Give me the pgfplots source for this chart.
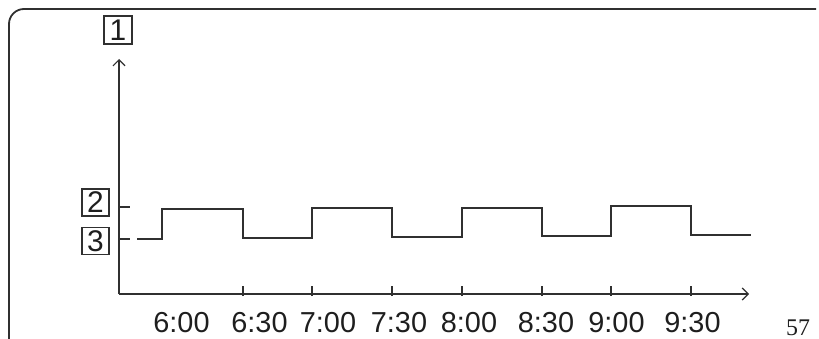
\documentclass[border=0pt]{standalone}
\usepackage{pgfplots}
\pgfplotsset{compat=1.18}
\usepackage{fontspec}
\setmainfont{Liberation Sans}
\newfontfamily\pagefont{Liberation Serif}
\usetikzlibrary{arrows.meta}
\definecolor{ink}{HTML}{303030}
\definecolor{txt}{HTML}{1E1E1E}
\begin{document}
\begin{tikzpicture}
\useasboundingbox (0,0) rectangle (819bp,339bp);
% page frame
\draw[ink, line width=1.8bp, rounded corners=15bp] (9bp,-2bp) -- (9bp,330bp) -- (816bp,330bp);
\begin{axis}[
  at={(119bp,45bp)}, anchor=south west,
  x=1bp, y=1bp,
  xmin=119, xmax=749, ymin=45, ymax=280,
  enlargelimits=false, clip=false,
  axis lines=left,
  axis line style={ink, line width=1.4bp, -{Straight Barb[length=6bp,width=12bp,line width=1.2bp]}},
  xtick={181.5,259.5,328,399,469,546,616.5,692.5},
  xticklabels={6:00,6:30,7:00,7:30,8:00,8:30,9:00,9:30},
  x tick style={draw=none},
  xticklabel style={anchor=base, yshift=-38bp, font=\fontsize{29}{30}\selectfont, text=txt, inner sep=0pt},
  extra x ticks={243,312,392,462,542,611,691},
  extra x tick labels={},
  extra x tick style={x tick style={draw=ink, line width=1.4bp, yshift=3bp}, major tick length=10bp, tick align=center},
  ytick={100,132},
  yticklabels={},
  y tick style={ink, line width=1.4bp},
  major tick length=11bp,
  tick align=inside,
]
\addplot[ink, line width=1.8bp, mark=none] coordinates {
 (137,100) (162,100) (162,130) (243,130) (243,101) (312,101) (312,131)
 (392,131) (392,102) (462,102) (462,131) (542,131) (542,103) (611,103)
 (611,133) (691,133) (691,104) (751,104)
};
\node[draw=ink, line width=1.3bp, minimum width=28bp, minimum height=28bp, inner sep=0pt,
      font=\fontsize{30}{30}\selectfont, text=txt] at (axis cs:118,309) {1};
\node[draw=ink, line width=1.3bp, minimum width=27bp, minimum height=27bp, inner sep=0pt,
      font=\fontsize{30}{30}\selectfont, text=txt] at (axis cs:95.5,136.5) {2};
\node[draw=ink, line width=1.3bp, minimum width=27bp, minimum height=27bp, inner sep=0pt,
      font=\fontsize{30}{30}\selectfont, text=txt] at (axis cs:95.5,98) {3};
\end{axis}
\node[anchor=base, inner sep=0pt, font=\pagefont\fontsize{24}{26}\selectfont, text=txt] at (798bp,4bp) {57};
\end{tikzpicture}
\end{document}
